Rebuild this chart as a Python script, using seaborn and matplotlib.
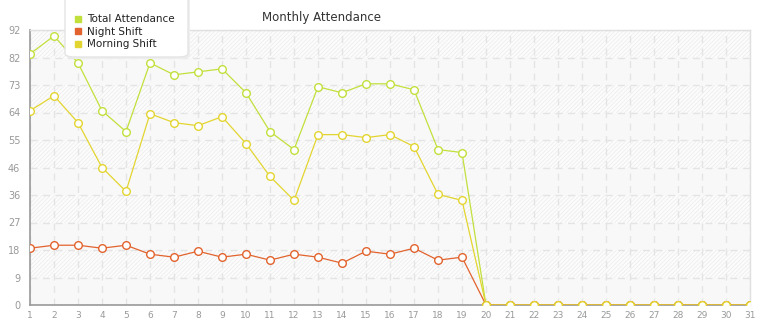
import matplotlib
matplotlib.use("Agg")
import matplotlib.pyplot as plt
import seaborn as sns
import pandas as pd
from matplotlib.lines import Line2D
from matplotlib.patches import FancyBboxPatch

days = list(range(1, 32))
total_attendance = [84, 90, 81, 65, 58, 81, 77, 78, 79, 71, 58, 52, 73, 71, 74, 74, 72, 52, 51] + [0] * 12
night_shift = [19, 20, 20, 19, 20, 17, 16, 18, 16, 17, 15, 17, 16, 14, 18, 17, 19, 15, 16] + [0] * 12
morning_shift = [65, 70, 61, 46, 38, 64, 61, 60, 63, 54, 43, 35, 57, 57, 56, 57, 53, 37, 35] + [0] * 12
series_names = ["Total Attendance", "Night Shift", "Morning Shift"]
colors = ["#c2e03c", "#e2632e", "#e3d530"]
ymax = 92
yticks = [ymax * i / 10 for i in range(11)]
ytick_labels = [str(int(v)) for v in yticks]

df = pd.DataFrame({"Day": days * 3,
                   "Value": total_attendance + night_shift + morning_shift,
                   "Series": [series_names[0]] * 31 + [series_names[1]] * 31 + [series_names[2]] * 31})

sns.set_style("white")
plt.rcParams["font.family"] = ["DejaVu Sans"]
plt.rcParams["hatch.linewidth"] = 0.6
fig = plt.figure(figsize=(7.65, 3.2), dpi=100)
ax = fig.add_axes([30 / 765, 15 / 320, 720 / 765, 275 / 320])

# background bands
for i in range(10):
    lo, hi = yticks[i], yticks[i + 1]
    if i % 2 == 1:
        ax.axhspan(lo, hi, facecolor="#fcfcfc", edgecolor="#eeeeee", hatch="////////", linewidth=0, zorder=0)
    else:
        ax.axhspan(lo, hi, facecolor="#f8f8f8", edgecolor="none", linewidth=0, zorder=0)

sns.lineplot(data=df, x="Day", y="Value", hue="Series", palette=colors, ax=ax,
             marker="o", markersize=5.5, markerfacecolor="white", markeredgewidth=1.0,
             linewidth=0.9, legend=False, zorder=3)
for line, c in zip(ax.lines, colors):
    line.set_markeredgecolor(c)

ax.set_xlim(1, 31)
ax.set_ylim(0, ymax)
ax.set_xticks(days)
ax.set_xticklabels([str(d) for d in days])
ax.set_yticks(yticks)
ax.set_yticklabels(ytick_labels)
ax.grid(True, color="#e4e4e4", linestyle=(0, (5, 4)), linewidth=1.0, zorder=1)
ax.set_axisbelow(True)
ax.set_xlabel("")
ax.set_ylabel("")
ax.tick_params(axis="both", colors="#999999", labelsize=7, length=4, width=1, direction="out", pad=2)
ax.tick_params(axis="x", length=3, pad=1, labelsize=6.5)
ax.tick_params(axis="y", length=5)
for side in ["left", "bottom"]:
    ax.spines[side].set_color("#999999")
    ax.spines[side].set_linewidth(1.2)
for side in ["top", "right"]:
    ax.spines[side].set_color("#e0e0e0")
    ax.spines[side].set_linewidth(1.0)
for lbl in ax.get_yticklabels() + ax.get_xticklabels():
    lbl.set_color("#999999")

fig.text(322 / 765, 1 - 17 / 320, "Monthly Attendance", ha="center", va="center", fontsize=8.5, color="#333333")

# legend box extending above the top edge
box = FancyBboxPatch((65 / 765, 1 - 57 / 320), 123 / 765, 80 / 320,
                     boxstyle="round,pad=0,rounding_size=0.012", transform=fig.transFigure,
                     facecolor="white", edgecolor="#e4e4e4", linewidth=1.0, zorder=9)
shadow = FancyBboxPatch((67 / 765, 1 - 59 / 320), 123 / 765, 80 / 320,
                        boxstyle="round,pad=0,rounding_size=0.012", transform=fig.transFigure,
                        facecolor="#eeeeee", edgecolor="none", zorder=8)
fig.patches.extend([shadow, box])

handles = [Line2D([], [], color=c, marker="s", linestyle="none", markersize=5) for c in colors]
leg = fig.legend(handles, series_names, loc="upper left", bbox_to_anchor=(68 / 765, 1 - 9 / 320),
                 frameon=False, fontsize=7.5, handletextpad=0.3, labelspacing=0.25,
                 borderpad=0.0, handlelength=1.0)
leg.set_zorder(10)
for t in leg.get_texts():
    t.set_color("#222222")

fig.savefig("out.png", dpi=100)
